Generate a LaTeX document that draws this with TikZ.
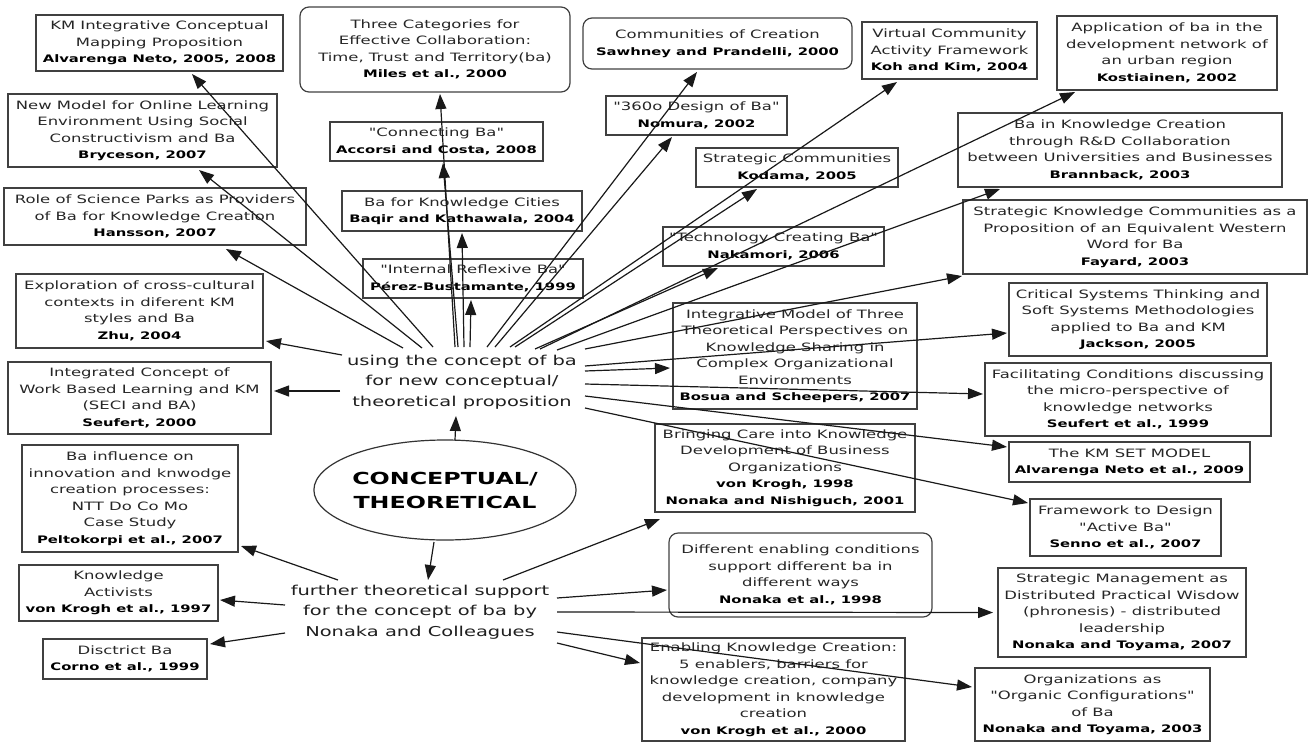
\documentclass[tikz,border=0pt]{standalone}
\usepackage{fontspec}
\setmainfont{DejaVu Sans}[FakeStretch=1.43, Ligatures=TeXOff]
\usetikzlibrary{arrows.meta,shapes.geometric}

% bold author/year line of each box
\newcommand\au[1]{{\color{black}\bfseries\fontsize{10.35}{16.5}\selectfont #1}}
% arrow between two nodes, each end given as an offset from the node centre
\newcommand\arrowlink[4]{\draw[arr] ([shift={#2}]#1.center) -- ([shift={#4}]#3.center);}

\tikzset{
  bx/.style={draw=black!75, line width=1.2pt, align=center, inner sep=0pt,
             font=\fontsize{11.5}{16.5}\selectfont, text=black!85},
  rbx/.style={bx, rounded corners=9pt},
  arr/.style={-{Triangle[length=15pt,width=11pt]}, line width=1.2pt, draw=black!90},
}

\begin{document}
\begin{tikzpicture}[x=1pt,y=-1pt]
\useasboundingbox (0,0) rectangle (1311,742);

% ---- left column ----
\node[bx, minimum width=247pt, minimum height=56pt] (km) at (159.5,43)
  {KM Integrative Conceptual\\Mapping Proposition\\\au{Alvarenga Neto, 2005, 2008}};
\node[bx, minimum width=269pt, minimum height=73pt] (newmodel) at (142.5,130.5)
  {New Model for Online Learning\\Environment Using Social\\Constructivism and Ba\\\au{Bryceson, 2007}};
\node[bx, minimum width=302pt, minimum height=57pt] (science) at (155,216.5)
  {Role of Science Parks as Providers\\of Ba for Knowledge Creation\\\au{Hansson, 2007}};
\node[bx, minimum width=247pt, minimum height=74pt] (zhu) at (139.5,311)
  {Exploration of cross-cultural\\contexts in diferent KM\\styles and Ba\\\au{Zhu, 2004}};
\node[bx, minimum width=263pt, minimum height=72pt] (integrated) at (139.5,398)
  {Integrated Concept of\\Work Based Learning and KM\\(SECI and BA)\\\au{Seufert, 2000}};
\node[bx, minimum width=216pt, minimum height=107pt] (peltokorpi) at (130,498.5)
  {Ba influence on\\innovation and knwodge\\creation processes:\\NTT Do Co Mo\\Case Study\\\au{Peltokorpi et al., 2007}};
\node[bx, minimum width=199pt, minimum height=56pt] (activists) at (118.5,593)
  {Knowledge\\Activists\\\au{von Krogh et al., 1997}};
\node[bx, minimum width=164pt, minimum height=40pt] (disctrict) at (125,659)
  {Disctrict Ba\\\au{Corno et al., 1999}};

% ---- upper middle ----
\node[rbx, minimum width=270pt, minimum height=85pt] (three) at (435,49.5)
  {Three Categories for\\Effective Collaboration:\\Time, Trust and Territory(ba)\\\au{Miles et al., 2000}};
\node[bx, minimum width=213pt, minimum height=39pt] (connecting) at (436.5,141.5)
  {"Connecting Ba"\\\au{Accorsi and Costa, 2008}};
\node[bx, minimum width=240pt, minimum height=40pt] (cities) at (462,211)
  {Ba for Knowledge Cities\\\au{Baqir and Kathawala, 2004}};
\node[bx, minimum width=220pt, minimum height=39pt] (internal) at (473,278.5)
  {"Internal Reflexive Ba"\\\au{Pérez-Bustamante, 1999}};
\node[rbx, minimum width=269pt, minimum height=51pt] (creation) at (717.5,43.5)
  {Communities of Creation\\\au{Sawhney and Prandelli, 2000}};
\node[bx, minimum width=181pt, minimum height=39pt] (nomura) at (696.5,115.5)
  {"360o Design of Ba"\\\au{Nomura, 2002}};
\node[bx, minimum width=202pt, minimum height=39pt] (kodama) at (797,167.5)
  {Strategic Communities\\\au{Kodama, 2005}};
\node[bx, minimum width=221pt, minimum height=39pt] (nakamori) at (773.5,246.5)
  {"Technology Creating Ba"\\\au{Nakamori, 2006}};

% ---- right column ----
\node[bx, minimum width=175pt, minimum height=57pt] (virtual) at (949.5,50.5)
  {Virtual Community\\Activity Framework\\\au{Koh and Kim, 2004}};
\node[bx, minimum width=220pt, minimum height=74pt] (kostiainen) at (1167,53)
  {Application of ba in the\\development network of\\an urban region\\\au{Kostiainen, 2002}};
\node[bx, minimum width=324pt, minimum height=74pt] (brannback) at (1120,150)
  {Ba in Knowledge Creation\\through R\&D Collaboration\\between Universities and Businesses\\\au{Brannback, 2003}};
\node[bx, minimum width=344pt, minimum height=74pt] (fayard) at (1135,237)
  {Strategic Knowledge Communities as a\\Proposition of an Equivalent Western\\Word for Ba\\\au{Fayard, 2003}};
\node[bx, minimum width=258pt, minimum height=73pt] (jackson) at (1138,319.5)
  {Critical Systems Thinking and\\Soft Systems Methodologies\\applied to Ba and KM\\\au{Jackson, 2005}};
\node[bx, minimum width=286pt, minimum height=73pt] (facilitating) at (1128,399.5)
  {Facilitating Conditions discussing\\the micro-perspective of\\knowledge networks\\\au{Seufert et al., 1999}};
\node[bx, minimum width=241pt, minimum height=40pt] (kmset) at (1129.5,462)
  {The KM SET MODEL\\\au{Alvarenga Neto et al., 2009}};
\node[bx, minimum width=191pt, minimum height=57pt] (senno) at (1125.5,527.5)
  {Framework to Design\\"Active Ba"\\\au{Senno et al., 2007}};
\node[bx, minimum width=248pt, minimum height=89pt] (toyama07) at (1122,612.5)
  {Strategic Management as\\Distributed Practical Wisdow\\(phronesis) - distributed\\leadership\\\au{Nonaka and Toyama, 2007}};
\node[bx, minimum width=235pt, minimum height=73pt] (toyama03) at (1092.5,704.5)
  {Organizations as\\"Organic Configurations"\\of Ba\\\au{Nonaka and Toyama, 2003}};

% ---- lower middle ----
\node[bx, minimum width=244pt, minimum height=106pt] (bosua) at (795,356)
  {Integrative Model of Three\\Theoretical Perspectives on\\Knowledge Sharing in\\Complex Organizational\\Environments\\\au{Bosua and Scheepers, 2007}};
\node[bx, minimum width=260pt, minimum height=88pt] (care) at (785,468)
  {Bringing Care into Knowledge\\Development of Business\\Organizations\\\au{von Krogh, 1998}\\\au{Nonaka and Nishiguch, 2001}};
\node[rbx, minimum width=263pt, minimum height=84pt] (nonaka98) at (800.5,575)
  {Different enabling conditions\\support different ba in\\different ways\\\au{Nonaka et al., 1998}};
\node[bx, minimum width=263pt, minimum height=103pt] (vonkrogh00) at (773.5,689.5)
  {Enabling Knowledge Creation:\\5 enablers, barriers for\\knowledge creation, company\\development in knowledge\\creation\\\au{von Krogh et al., 2000}};

% ---- centre ----
\node[align=center, inner sep=0pt, text=black!88, font=\fontsize{13.6}{20.5}\selectfont] (using) at (462,382)
  {using the concept of ba\\for new conceptual/\\theoretical proposition};
\node[draw=black!80, line width=1.2pt, ellipse, minimum width=235pt, minimum height=100pt, inner sep=0pt,
      align=center, font=\bfseries\fontsize{16.6}{24}\selectfont] (concept) at (445,490)
  {CONCEPTUAL/\\THEORETICAL};
\node[align=center, inner sep=0pt, text=black!88, font=\fontsize{13.6}{20.5}\selectfont] (further) at (420,612)
  {further theoretical support\\for the concept of ba by\\Nonaka and Colleagues};

% ---- arrows from the proposition node ----
\arrowlink{using}{(-29,-35)}{km}{(32.5,31)}
\arrowlink{using}{(-40,-34)}{newmodel}{(56.5,39.5)}
\arrowlink{using}{(-59,-34)}{science}{(71,32.5)}
\arrowlink{using}{(-120,-27)}{zhu}{(126.5,30)}
\arrowlink{using}{(-122,9)}{integrated}{(134.5,-7)}
\arrowlink{using}{(-7,-35)}{three}{(5,44.5)}
\arrowlink{using}{(-4,-35)}{connecting}{(6.5,21.5)}
\arrowlink{using}{(2,-35)}{cities}{(0,22)}
\arrowlink{using}{(8,-35)}{internal}{(-2,21.5)}
\arrowlink{using}{(25,-35)}{creation}{(-20.5,28.5)}
\arrowlink{using}{(33,-35)}{nomura}{(-24.5,21.5)}
\arrowlink{using}{(48,-35)}{virtual}{(-52.5,31.5)}
\arrowlink{using}{(53,-35)}{kodama}{(-40,21.5)}
\arrowlink{using}{(73,-33)}{nakamori}{(-55.5,21.5)}
\arrowlink{using}{(78,-33)}{kostiainen}{(-92,39)}
\arrowlink{using}{(95,-32)}{brannback}{(-120,39)}
\arrowlink{using}{(123,-33)}{fayard}{(-173,39)}
\arrowlink{using}{(123,-16)}{jackson}{(-131,13.5)}
\arrowlink{using}{(123,-11)}{bosua}{(-125,12)}
\arrowlink{using}{(123,2)}{facilitating}{(-145,-5.5)}
\arrowlink{using}{(123,14)}{kmset}{(-122.5,-15)}
\arrowlink{using}{(123,26)}{senno}{(-97.5,-24.5)}

% ---- arrows from the ellipse ----
\arrowlink{concept}{(10,-50)}{using}{(-6,34)}
\arrowlink{concept}{(-11,52)}{further}{(8,-32)}

% ---- arrows from the Nonaka node ----
\arrowlink{further}{(-82,-32)}{peltokorpi}{(111,47.5)}
\arrowlink{further}{(-135,-7)}{activists}{(101.5,7)}
\arrowlink{further}{(-135,21)}{disctrict}{(85,-15)}
\arrowlink{further}{(83,-32)}{care}{(-125,51)}
\arrowlink{further}{(137,-14)}{nonaka98}{(-133.5,15)}
\arrowlink{further}{(137,0)}{toyama07}{(-129,0)}
\arrowlink{further}{(137,20)}{toyama03}{(-120.5,-17.5)}
\arrowlink{further}{(137,31)}{vonkrogh00}{(-133.5,-26.5)}
\end{tikzpicture}
\end{document}
